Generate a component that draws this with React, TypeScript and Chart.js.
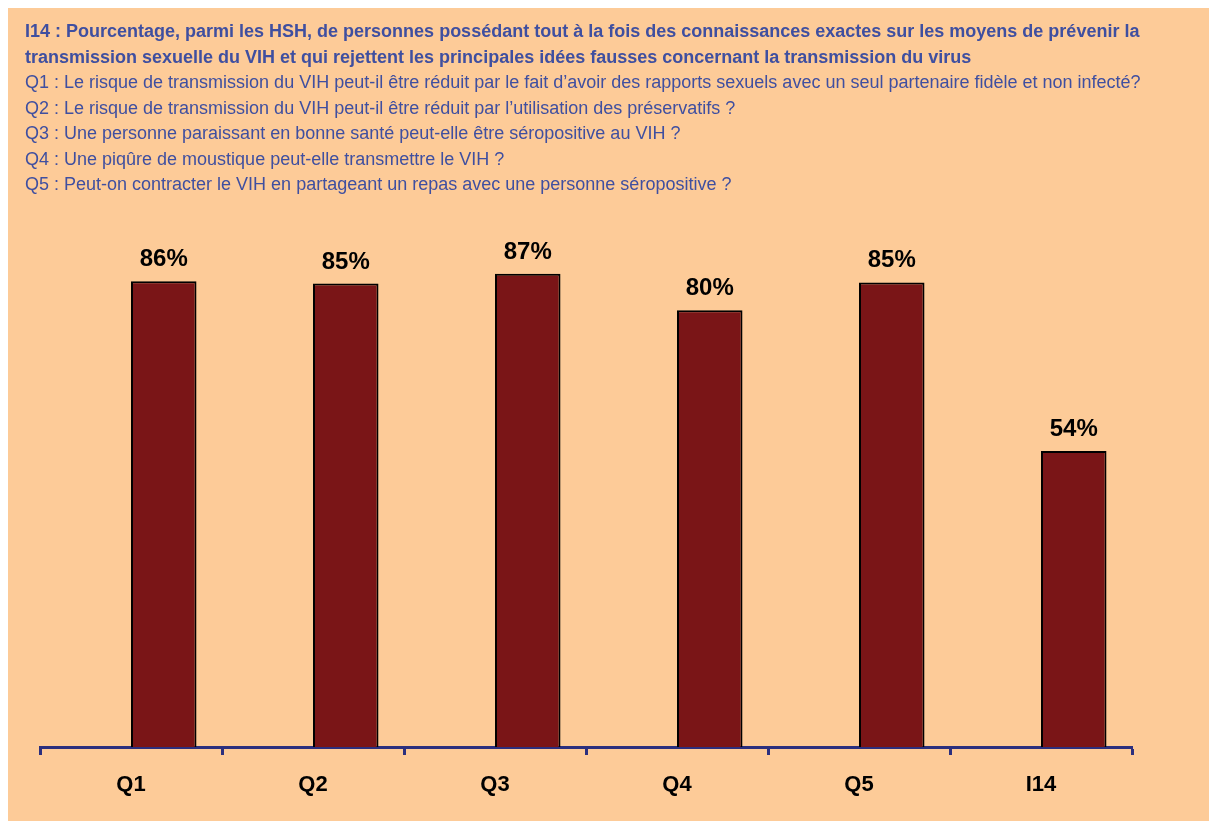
import React, { useEffect, useRef } from "react";
import { Chart, registerables } from "chart.js";

Chart.register(...registerables);

const categories = ["Q1", "Q2", "Q3", "Q4", "Q5", "I14"];
const values = [85.6, 85.2, 87.0, 80.3, 85.4, 54.4];
const valueLabels = ["86%", "85%", "87%", "80%", "85%", "54%"];
const emptySeries = [null, null, null, null, null, null];
const titleLines = [
  "I14 : Pourcentage, parmi les HSH, de personnes possédant tout à la fois des connaissances exactes sur les moyens de prévenir la",
  "transmission sexuelle du VIH et qui rejettent les principales idées fausses concernant la transmission du virus",
];
const questionLines = [
  "Q1 : Le risque de transmission du VIH peut-il être réduit par le fait d’avoir des rapports sexuels avec un seul partenaire fidèle et non infecté?",
  "Q2 : Le risque de transmission du VIH peut-il être réduit par l’utilisation des préservatifs ?",
  "Q3 : Une personne paraissant en bonne santé peut-elle être séropositive au VIH ?",
  "Q4 : Une piqûre de moustique peut-elle transmettre le VIH ?",
  "Q5 : Peut-on contracter le VIH en partageant un repas avec une personne séropositive ?",
];

const BAR = "#7A1517";
const NAVY = "#2B2F7E";
const TEXTBLUE = "#3F4FA0";

const labelPlugin = {
  id: "barLabels",
  afterDatasetsDraw(chart: any) {
    const ctx = chart.ctx;
    const meta = chart.getDatasetMeta(1);
    ctx.save();
    ctx.font = "bold 24px 'Liberation Sans', Arial, sans-serif";
    ctx.fillStyle = "#000";
    ctx.textAlign = "center";
    ctx.textBaseline = "alphabetic";
    meta.data.forEach((el: any, i: number) => {
      ctx.fillText(valueLabels[i], el.x, el.y - 15);
    });
    ctx.restore();
  },
};

export default function App() {
  const ref = useRef<HTMLCanvasElement>(null);
  useEffect(() => {
    if (!ref.current) return;
    const chart = new Chart(ref.current, {
      type: "bar",
      data: {
        labels: categories,
        datasets: [
          { data: emptySeries as any, backgroundColor: "transparent" },
          {
            data: values,
            backgroundColor: BAR,
            borderColor: "#000",
            borderWidth: 2,
          } as any,
        ],
      },
      options: {
        animation: false,
        responsive: false,
        maintainAspectRatio: false,
        layout: { padding: { left: 32, right: 85, top: 195, bottom: 14 } },
        datasets: { bar: { categoryPercentage: 0.72, barPercentage: 1 } } as any,
        plugins: { legend: { display: false }, tooltip: { enabled: false }, title: { display: false } },
        scales: {
          y: { display: false, min: 0, max: 100 },
          x: {
            afterFit: (s: any) => {
              s.height = 60;
            },
            border: { display: true, color: NAVY, width: 3 },
            grid: {
              display: true,
              drawOnChartArea: false,
              drawTicks: true,
              tickLength: 8,
              tickColor: NAVY,
              tickWidth: 3,
              offset: true,
            } as any,
            ticks: {
              color: "#000",
              font: { family: "'Liberation Sans', Arial, sans-serif", size: 22, weight: "bold" },
              padding: 17,
            },
          },
        },
      },
      plugins: [labelPlugin],
    });
    return () => chart.destroy();
  }, []);

  const font = "'Liberation Sans Narrow', 'Arial Narrow', 'Liberation Sans', Arial, sans-serif";
  return (
    <div
      style={{
        position: "relative",
        width: 1209,
        height: 813,
        background: "#FDCB98",
        overflow: "hidden",
      }}
    >
      <canvas ref={ref} width={1209} height={813} style={{ position: "absolute", left: 0, top: 0 }} />
      <div
        style={{
          position: "absolute",
          left: 17,
          top: 11,
          fontFamily: font,
          fontSize: 18,
          lineHeight: "25.5px",
          color: TEXTBLUE,
          whiteSpace: "nowrap",
        }}
      >
        {titleLines.map((t, i) => (
          <div key={"t" + i} style={{ fontWeight: "bold" }}>{t}</div>
        ))}
        {questionLines.map((t, i) => (
          <div key={"q" + i}>{t}</div>
        ))}
      </div>
    </div>
  );
}
